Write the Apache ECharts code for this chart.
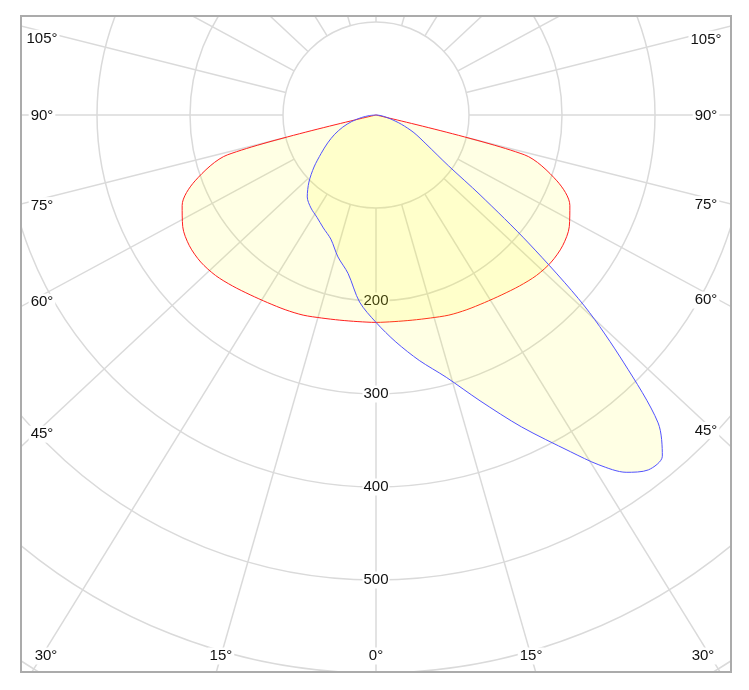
<!DOCTYPE html>
<html>
<head>
<meta charset="utf-8">
<title>Polar intensity diagram</title>
<script src="https://cdn.jsdelivr.net/npm/echarts/dist/echarts.min.js"></script>
<style>
    html, body { margin: 0; padding: 0; background: #fff; }
    #frame { position: absolute; left: 20px; top: 15px; width: 708px; height: 654px; border: 2px solid #ababab; }
    #main { width: 708px; height: 654px; }
</style>
</head>
<body>
<div id="frame"><div id="main"></div></div>
<script>
(function(){

    // gamma angles, measured from straight down
    var gamma = [0, 5, 10, 15, 20, 25, 30, 35, 40, 45, 50, 55, 60, 65, 70, 75, 80, 85, 90];

    // red plane, same on both sides
    var redPlane = [223, 223, 224, 226, 229, 231, 233, 236, 240, 244, 246, 245, 240, 230, 207, 165, 0, 0, 0];

    // blue plane, left half
    var blueLeft = [223, 202, 173, 158, 142, 134, 127, 122, 115, 102, 87, 72, 60, 49, 38, 27, 16, 7, 0];

    // blue plane, right half (finer steps around the peak)
    var blueRightAngles = [0, 5, 10, 15, 20, 25, 30, 32.5, 35, 37.5, 40, 42.5, 45, 47.5, 50, 52.5, 55, 60, 65, 70, 75, 80, 85, 90];
    var blueRight = [223, 245, 268, 292, 327, 370, 418, 446, 469, 481, 479, 449, 377, 304, 214, 141, 95, 62, 45, 29, 16, 8, 3, 0];

    var radiusLabels = [200, 300, 400, 500];
    var angleLabels = [0, 15, 30, 45, 60, 75, 90, 105];
    var gridAngles = [0, 15, 30, 45, 60, 75, 90, 105, 120, 135, 150, 165, 180];

    var W = 708, H = 654;
    var center = [354, 98];
    var pxPerUnit = 0.93;
    var rMax = 800;
    var stretch = 1.07;   // the spokes of the original are drawn a bit wide
    var FONT = '"Liberation Sans", Arial, sans-serif';

    function each(arr, fn) { for (var i = 0; i < arr.length; i++) fn(arr[i], i); }

    function spoke(a) {
        var r = a * Math.PI / 180;
        return Math.atan2(stretch * Math.sin(r), Math.cos(r)) * 180 / Math.PI;
    }

    // one side of a plane -> [radius, angle] points
    function side(angles, values, dir) {
        var out = [];
        for (var i = 0; i < angles.length; i++) {
            out.push([values[i], dir > 0 ? angles[i] : 360 - angles[i]]);
        }
        return out;
    }

    function plane(leftA, leftV, rightA, rightV) {
        var l = side(leftA, leftV, -1).slice(1).reverse();
        return l.concat(side(rightA, rightV, 1));
    }

    var series = [];

    // spokes from the 100 ring outwards
    each(gridAngles, function (a) {
        var dirs = (a === 0 || a === 180) ? [1] : [-1, 1];
        dirs.forEach(function (d) {
            var t = spoke(a);
            var th = d > 0 ? t : 360 - t;
            series.push({
                type: 'line',
                coordinateSystem: 'polar',
                data: [[100, th], [rMax, th]],
                symbol: 'none',
                silent: true,
                z: 1,
                lineStyle: { color: '#dadada', width: 1.5 }
            });
        });
    });

    // radius labels along the 0 spoke
    series.push({
        type: 'scatter',
        coordinateSystem: 'polar',
        symbolSize: 0,
        silent: true,
        z: 1,
        itemStyle: { opacity: 1 },
        data: radiusLabels.map(function (v) { return [v, 0]; }),
        label: {
            show: true,
            position: 'inside',
            formatter: function (p) { return String(p.value[0]); },
            color: '#111',
            opacity: 1,
            fontSize: 15,
            fontFamily: FONT,
            backgroundColor: '#fff',
            padding: [1, 1]
        }
    });

    series.push({
        name: 'C0-C180',
        type: 'line',
        coordinateSystem: 'polar',
        data: plane(gamma, redPlane, gamma, redPlane),
        symbol: 'none',
        smooth: 0.3,
        z: 3,
        lineStyle: { color: '#ff2020', width: 1 },
        areaStyle: { color: 'rgba(255,255,0,0.15)' }
    });

    series.push({
        name: 'C90-C270',
        type: 'line',
        coordinateSystem: 'polar',
        data: plane(gamma, blueLeft, blueRightAngles, blueRight),
        symbol: 'none',
        smooth: 0.3,
        z: 4,
        lineStyle: { color: '#5252ff', width: 1 },
        areaStyle: { color: 'rgba(255,255,0,0.15)' }
    });

    // angle labels where the spokes meet the frame
    var graphics = [];
    each(angleLabels, function (a) {
        var dirs = a === 0 ? [1] : [-1, 1];
        dirs.forEach(function (d) {
            var t = spoke(a) * Math.PI / 180;
            var dx = d * Math.sin(t), dy = Math.cos(t);
            var tBottom = dy > 1e-6 ? (H - center[1]) / dy : Infinity;
            var tSide = Math.abs(dx) > 1e-6 ? (d < 0 ? center[0] : W - center[0]) / Math.abs(dx) : Infinity;
            var x, y;
            if (tBottom < tSide) {
                y = H - 15;
                x = center[0] + dx / dy * (y - center[1]);
                x = Math.max(24, Math.min(W - 27, x));
            } else {
                x = d < 0 ? 20 : W - 24;
                y = center[1] + dy / Math.abs(dx) * Math.abs(x - center[0]);
                if (a !== 90) y += 6;   // sits just under the spoke
                y += 1;
            }
            graphics.push({
                type: 'text',
                x: x,
                y: y,
                z: 100,
                silent: true,
                style: {
                    text: a + '°',
                    fill: '#111',
                    font: '15px ' + FONT,
                    align: 'center',
                    verticalAlign: 'middle',
                    backgroundColor: '#fff',
                    padding: [1, 2]
                }
            });
        });
    });

    var myChart = echarts.init(document.getElementById('main'));

    var option = {
        animation: false,
        backgroundColor: '#fff',
        polar: {
            center: center,
            radius: rMax * pxPerUnit
        },
        angleAxis: {
            type: 'value',
            min: 0,
            max: 360,
            interval: 15,
            startAngle: 270,
            clockwise: false,
            axisLine: { show: false },
            axisTick: { show: false },
            axisLabel: { show: false },
            splitLine: { show: false }
        },
        radiusAxis: {
            type: 'value',
            min: 0,
            max: rMax,
            interval: 100,
            axisLine: { show: false },
            axisTick: { show: false },
            axisLabel: { show: false },
            splitLine: { show: true, lineStyle: { color: '#dadada', width: 1.5 } }
        },
        graphic: graphics,
        series: series
    };

    myChart.setOption(option);

})();
</script>
</body>
</html>
